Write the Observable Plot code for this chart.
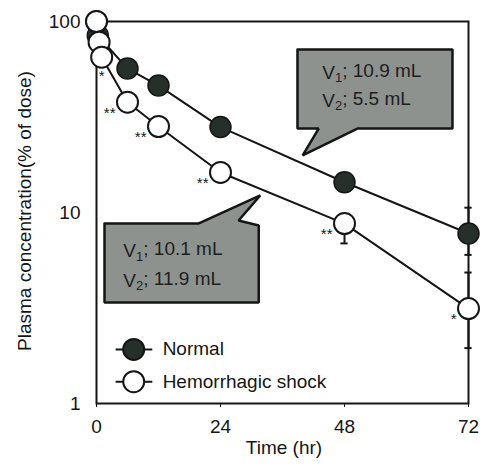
<!DOCTYPE html>
<html>
<head>
<meta charset="utf-8">
<script src="https://cdn.jsdelivr.net/npm/d3@7"></script>
<script src="https://cdn.jsdelivr.net/npm/@observablehq/plot@0.6"></script>
<style>
  html, body { margin: 0; padding: 0; background: #fff; }
  #chart { width: 480px; height: 466px; }
</style>
</head>
<body>
<div id="chart"></div>
<script>
// ---- data ----
const normalTime = [0, 0.25, 6, 12, 24, 48, 72];
const normalConc = [100, 84.5, 56.7, 46.2, 28.0, 14.4, 7.76];
const shockTime = [0, 0.5, 1, 6, 12, 24, 48, 72];
const shockConc = [100, 77.9, 65.0, 37.8, 28.2, 16.2, 8.75, 3.14];
const shockSig  = ["", "", "*", "**", "**", "**", "**", "*"];
// error bars (visible ones)
const errSeries = ["shock", "shock", "normal"];
const errTime   = [48, 72, 72];
const errLow    = [6.89, 1.95, 6.0];
const errHigh   = [9.3, 4.85, 10.6];
const xTicks = [0, 24, 48, 72];
const yTicks = [1, 10, 100];
const seriesNames = ["Normal", "Hemorrhagic shock"];
const calloutNormalText = ["V1; 10.9 mL", "V2; 5.5 mL"];
const calloutShockText  = ["V1; 10.1 mL", "V2; 11.9 mL"];

// ---- annotation layout (data coordinates) ----
const callout1Shape = {t: [38.9, 68.9, 68.9, 50.5, 39.9, 43.0, 38.9, 38.9], c: [71.3, 71.3, 27.5, 27.5, 19.9, 27.5, 27.5, 71.3]};
const callout1TextPos = {t: 43.7, c: [54.1, 38.6]};
const callout2Shape = {t: [1.55, 19.7, 31.7, 27.5, 31.4, 31.4, 1.55, 1.55], c: [8.75, 8.75, 12.3, 9.08, 8.55, 3.38, 3.38, 8.75]};
const callout2TextPos = {t: 5.2, c: [6.32, 4.41]};
const legendPos = {t: 7.2, t1: 3.7, t2: 10.8, tText: 12.8, c: [1.92, 1.30]};

// ---- build tables ----
const normal = normalTime.map((t, i) => ({t, c: normalConc[i]}));
const shock = shockTime.map((t, i) => ({t, c: shockConc[i], sig: shockSig[i]}));
const errs = errTime.map((t, i) => ({s: errSeries[i], t, lo: errLow[i], hi: errHigh[i]}));
const poly = (s) => s.t.map((t, i) => ({t, c: s.c[i]}));
const c1 = poly(callout1Shape), c2 = poly(callout2Shape);
const c1Text = calloutNormalText.map((s, i) => ({t: callout1TextPos.t, c: callout1TextPos.c[i], s}));
const c2Text = calloutShockText.map((s, i) => ({t: callout2TextPos.t, c: callout2TextPos.c[i], s}));
const legend = seriesNames.map((name, i) => ({name, i, c: legendPos.c[i]}));

const ink = "#151515";
const darkFill = "#25302b";
const boxFill = "#8d928f";
const W = 480, H = 466;

const chart = Plot.plot({
  width: W, height: H,
  marginLeft: 96, marginRight: 12, marginTop: 21, marginBottom: 63,
  style: {fontFamily: "'Liberation Sans', Arial, sans-serif", fontSize: "19px", color: ink, background: "white", overflow: "visible"},
  x: {domain: [0, 72], ticks: xTicks, tickFormat: d => String(d), tickSize: 4, tickPadding: 12, label: null},
  y: {type: "log", domain: [1, 100], ticks: yTicks, tickFormat: d => String(d), tickSize: 0, tickPadding: 16, label: null},
  marks: [
    Plot.frame({stroke: ink, strokeWidth: 2}),
    Plot.line(normal, {x: "t", y: "c", stroke: ink, strokeWidth: 2}),
    Plot.line(shock, {x: "t", y: "c", stroke: ink, strokeWidth: 2}),
    Plot.ruleX(errs, {x: "t", y1: "lo", y2: "hi", stroke: ink, strokeWidth: 2}),
    Plot.ruleY(errs, {y: "lo", x1: d => d.t - 0.7, x2: d => d.t + 0.7, stroke: ink, strokeWidth: 2}),
    Plot.ruleY(errs, {y: "hi", x1: d => d.t - 0.7, x2: d => d.t + 0.7, stroke: ink, strokeWidth: 2}),
    Plot.dot(normal, {x: "t", y: "c", r: 10.5, fill: darkFill, stroke: ink, strokeWidth: 1.5}),
    Plot.dot(shock, {x: "t", y: "c", r: 10.5, fill: "white", stroke: ink, strokeWidth: 2}),
    Plot.text(shock.filter(d => d.t === 1), {x: "t", y: "c", text: "sig", dy: 19, fontSize: 15, fill: ink}),
    Plot.text(shock.filter(d => d.sig && d.t !== 1), {x: "t", y: "c", text: "sig", dx: -12, dy: 11, textAnchor: "end", fontSize: 15, fill: ink}),
    Plot.line(c1, {x: "t", y: "c", fill: boxFill, stroke: ink, strokeWidth: 2.5, strokeLinejoin: "miter"}),
    Plot.line(c2, {x: "t", y: "c", fill: boxFill, stroke: ink, strokeWidth: 2.5, strokeLinejoin: "miter"}),
    Plot.text(c1Text, {x: "t", y: "c", text: "s", textAnchor: "start", fill: "#1e1e1e", fontSize: 19}),
    Plot.text(c2Text, {x: "t", y: "c", text: "s", textAnchor: "start", fill: "#1e1e1e", fontSize: 19}),
    Plot.link(legend, {x1: () => legendPos.t1, x2: () => legendPos.t2, y1: "c", y2: "c", stroke: ink, strokeWidth: 2}),
    Plot.dot(legend, {x: () => legendPos.t, y: "c", r: 10.5, fill: d => d.i === 0 ? darkFill : "white", stroke: ink, strokeWidth: 2}),
    Plot.text(legend, {x: () => legendPos.tText, y: "c", text: "name", textAnchor: "start", fontSize: 19, fill: ink})
  ]
});

document.getElementById("chart").appendChild(chart);

const svg = d3.select(chart);
// subscripts in callouts
svg.selectAll("text").each(function () {
  const el = d3.select(this);
  const s = el.text();
  const m = s.match(/^V(\d)(;.*)$/);
  if (!m) return;
  el.selectAll("*").remove();
  el.text(null);
  el.append("tspan").text("V");
  el.append("tspan").attr("font-size", "13px").attr("dy", "0.3em").text(m[1]);
  el.append("tspan").attr("dy", "-0.3em").text(m[2]);
});
// axis titles
svg.append("text")
  .attr("transform", "translate(24,211) rotate(-90)")
  .attr("text-anchor", "middle").attr("dominant-baseline", "central")
  .attr("fill", ink).attr("font-size", 19)
  .text("Plasma concentration(% of dose)");
svg.append("text")
  .attr("x", 284).attr("y", 447)
  .attr("text-anchor", "middle").attr("dominant-baseline", "central")
  .attr("fill", ink).attr("font-size", 19)
  .text("Time (hr)");
</script>
</body>
</html>
